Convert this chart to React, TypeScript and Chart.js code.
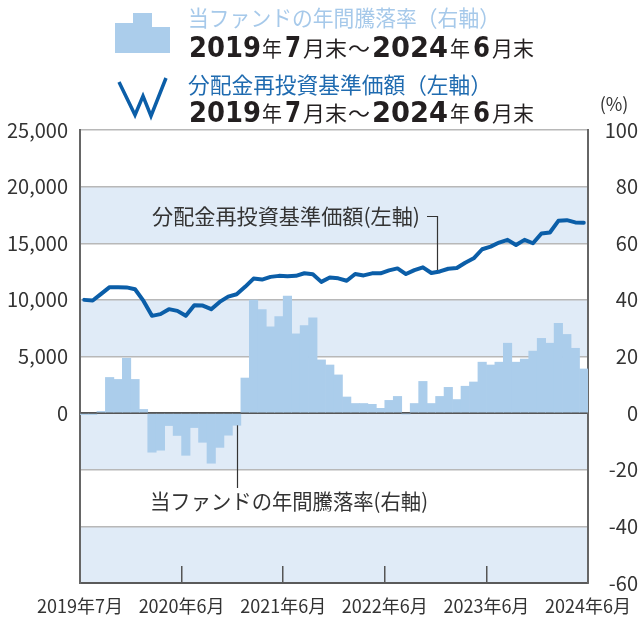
import React, { useEffect, useRef } from 'react';
import { Chart, registerables } from 'chart.js';
Chart.register(...registerables);

// ---- data ----
const months = [
  '2019/07','2019/08','2019/09','2019/10','2019/11','2019/12','2020/01','2020/02','2020/03','2020/04','2020/05','2020/06',
  '2020/07','2020/08','2020/09','2020/10','2020/11','2020/12','2021/01','2021/02','2021/03','2021/04','2021/05','2021/06',
  '2021/07','2021/08','2021/09','2021/10','2021/11','2021/12','2022/01','2022/02','2022/03','2022/04','2022/05','2022/06',
  '2022/07','2022/08','2022/09','2022/10','2022/11','2022/12','2023/01','2023/02','2023/03','2023/04','2023/05','2023/06',
  '2023/07','2023/08','2023/09','2023/10','2023/11','2023/12','2024/01','2024/02','2024/03','2024/04','2024/05','2024/06',
];
const annualReturnPct = [
  -0.5, -0.5, 0.6, 12.6, 11.9, 19.4, 11.9, 1.3, -13.8, -13.1, -4.4, -7.9,
  -14.9, -5.1, -10.3, -17.7, -12.1, -7.8, -4.3, 12.4, 39.9, 36.6, 30.5, 34.1,
  41.3, 28.0, 30.9, 33.7, 18.8, 17.0, 13.5, 5.7, 3.4, 3.4, 3.1, 1.7,
  4.5, 5.9, -0.3, 3.4, 11.2, 3.4, 5.9, 9.1, 4.8, 9.5, 11.0, 18.0,
  17.0, 18.0, 24.7, 18.0, 19.1, 21.9, 26.4, 24.7, 31.7, 27.8, 22.9, 15.6,
];
const navValues = [
  10000, 9940, 10530, 11120, 11120, 11100, 10940, 9910, 8590, 8740, 9180, 9030,
  8590, 9530, 9500, 9180, 9820, 10290, 10500, 11150, 11880, 11790, 12030, 12120,
  12090, 12120, 12350, 12260, 11590, 11970, 11900, 11690, 12280, 12160, 12340, 12340,
  12600, 12780, 12280, 12630, 12870, 12370, 12510, 12750, 12810, 13280, 13670, 14470,
  14700, 15060, 15300, 14850, 15300, 15000, 15860, 15950, 16980, 17040, 16840, 16810,
];
const xTickPositions = [0, 12, 24, 36, 48, 60];
const xTickLabels = ['2019年7月', '2020年6月', '2021年6月', '2022年6月', '2023年6月', '2024年6月'];
const bandRanges = [[60, 80], [20, 40], [-20, 0], [-60, -40]];
const navLeaderIndex = 41.66;
const returnLeaderIndex = 18;

const legendReturnText = '当ファンドの年間騰落率（右軸）';
const legendNavText = '分配金再投資基準価額（左軸）';
// [text, kind, left x, width]
const periodSegments: [string, string, number, number][] = [
  ['2019', 'num', 189, 72], ['年', 'jp', 262, 20], ['7', 'num', 285, 16], ['月末', 'jp', 303, 44], ['～', 'jp', 348, 22],
  ['2024', 'num', 372, 76], ['年', 'jp', 450, 20], ['6', 'num', 473, 17], ['月末', 'jp', 492, 42],
];
const annoNavText = '分配金再投資基準価額(左軸)';
const annoReturnText = '当ファンドの年間騰落率(右軸)';

const BAR_COLOR = '#abcdeb';
const LINE_COLOR = '#0b5ea8';
const BAND_COLOR = '#e0ebf7';
const TEXT_COLOR = '#333333';
const JP = '"Noto Sans CJK JP", sans-serif';
const NUM_FONT = '"Noto Sans CJK JP", sans-serif';

function fitText(ctx: CanvasRenderingContext2D, s: string, x: number, y: number, w: number) {
  const m = ctx.measureText(s).width;
  ctx.save();
  ctx.translate(x, y);
  ctx.scale(w / m, 1);
  ctx.fillText(s, 0, 0);
  ctx.restore();
}

const bandsPlugin = {
  id: 'bands',
  beforeDraw(chart: any) {
    const { ctx, chartArea, scales } = chart;
    const y = scales.y;
    ctx.save();
    ctx.fillStyle = BAND_COLOR;
    for (const [lo, hi] of bandRanges) {
      const t = y.getPixelForValue(hi);
      const b = y.getPixelForValue(lo);
      ctx.fillRect(chartArea.left, t, chartArea.right - chartArea.left, b - t);
    }
    ctx.restore();
  },
};

const annotationPlugin = {
  id: 'annos',
  afterDraw(chart: any) {
    const { ctx, scales } = chart;
    const x = scales.x, y = scales.y, yL = scales.yL;
    ctx.save();
    // legend icons
    ctx.fillStyle = BAR_COLOR;
    ctx.fillRect(115, 23, 18, 30);
    ctx.fillRect(133, 13, 19, 40);
    ctx.fillRect(152, 27, 18, 26);
    ctx.strokeStyle = LINE_COLOR;
    ctx.lineWidth = 3.5;
    ctx.lineJoin = 'miter';
    ctx.beginPath();
    ctx.moveTo(119, 82);
    ctx.lineTo(135, 115);
    ctx.lineTo(143, 96);
    ctx.lineTo(151, 116);
    ctx.lineTo(166, 78);
    ctx.stroke();

    // legend texts
    ctx.textBaseline = 'middle';
    ctx.textAlign = 'left';
    ctx.font = `22px ${JP}`;
    ctx.fillStyle = '#a6c9ea';
    fitText(ctx, legendReturnText, 188, 18, 312);
    ctx.fillStyle = '#1f6bb0';
    fitText(ctx, legendNavText, 188, 85, 304);

    ctx.textBaseline = 'alphabetic';
    ctx.fillStyle = '#231f20';
    for (const base of [57, 122]) {
      for (const [s, kind, px, w] of periodSegments) {
        ctx.font = kind === 'num' ? 'bold 29px "DejaVu Sans", sans-serif' : `21px ${JP}`;
        fitText(ctx, s, px, kind === 'num' ? base : base - 1, w);
      }
    }

    // (%)
    ctx.font = `18px ${NUM_FONT}`;
    ctx.fillStyle = TEXT_COLOR;
    ctx.textAlign = 'center';
    ctx.textBaseline = 'middle';
    ctx.fillText('(%)', 614, 104);

    // annotation NAV
    ctx.textAlign = 'left';
    ctx.font = `21px ${JP}`;
    fitText(ctx, annoNavText, 152, 216, 268);
    const i0 = Math.floor(navLeaderIndex);
    const f = navLeaderIndex - i0;
    const v = navValues[i0] + (navValues[i0 + 1] - navValues[i0]) * f;
    const lx = Math.round(x.getPixelForValue(navLeaderIndex + 0.5)) + 0.5;
    const ly = yL.getPixelForValue(v) - 2;
    ctx.strokeStyle = TEXT_COLOR;
    ctx.lineWidth = 1.2;
    ctx.beginPath();
    ctx.moveTo(427, 216.5);
    ctx.lineTo(lx, 216.5);
    ctx.lineTo(lx, ly);
    ctx.stroke();

    // annotation return
    fitText(ctx, annoReturnText, 150, 501, 278);
    const bx = Math.round(x.getPixelForValue(returnLeaderIndex + 0.5)) + 0.5;
    const by = y.getPixelForValue(annualReturnPct[returnLeaderIndex]);
    ctx.beginPath();
    ctx.moveTo(bx, by);
    ctx.lineTo(bx, 488);
    ctx.stroke();
    ctx.restore();
  },
};

export default function App() {
  const ref = useRef<HTMLCanvasElement>(null);
  useEffect(() => {
    if (!ref.current) return;
    const chart = new Chart(ref.current, {
      type: 'bar',
      data: {
        labels: months,
        datasets: [
          {
            type: 'line',
            label: '分配金再投資基準価額',
            data: navValues.map((v, i) => ({ x: i + 0.5, y: v })),
            borderColor: LINE_COLOR,
            borderWidth: 4,
            pointRadius: 0,
            tension: 0,
            borderJoinStyle: 'round',
            borderCapStyle: 'round',
            yAxisID: 'yL',
            xAxisID: 'x',
            order: 1,
          } as any,
          {
            type: 'bar',
            label: '当ファンドの年間騰落率',
            data: annualReturnPct.map((v, i) => ({ x: i + 0.5, y: v })),
            backgroundColor: BAR_COLOR,
            borderWidth: 0,
            barPercentage: 1,
            categoryPercentage: 1,
            yAxisID: 'y',
            xAxisID: 'x',
            order: 2,
          } as any,
        ],
      },
      options: {
        animation: false,
        responsive: false,
        layout: { padding: { top: 130, left: 0, right: 0, bottom: 0 } },
        plugins: { legend: { display: false }, tooltip: { enabled: false } },
        scales: {
          x: {
            type: 'linear',
            min: 0,
            max: 60,
            offset: false,
            afterBuildTicks: (s: any) => { s.ticks = xTickPositions.map((p) => ({ value: p })); },
            afterFit: (s: any) => { s.height = 35; s.paddingLeft = 0; s.paddingRight = 0; },
            ticks: {
              autoSkip: false,
              maxRotation: 0,
              padding: 29,
              color: TEXT_COLOR,
              font: { family: NUM_FONT, size: 18 },
              callback: (_v: any, i: number) => xTickLabels[i],
            },
            grid: { drawOnChartArea: false, drawTicks: true, tickLength: -17, color: '#555', lineWidth: 1.5, offset: false },
            border: { display: true, color: '#5a5a5a', width: 2 },
          } as any,
          yL: {
            type: 'linear',
            position: 'left',
            min: -15000,
            max: 25000,
            afterFit: (s: any) => { s.width = 80; },
            ticks: {
              stepSize: 5000,
              padding: 12,
              color: TEXT_COLOR,
              font: { family: NUM_FONT, size: 20 },
              callback: (v: any) => (v < 0 ? '' : Number(v).toLocaleString('en-US')),
            },
            grid: { display: false, drawTicks: false },
            border: { display: true, color: '#666', width: 2 },
          } as any,
          y: {
            type: 'linear',
            position: 'right',
            min: -60,
            max: 100,
            afterFit: (s: any) => { s.width = 50; },
            ticks: {
              stepSize: 20,
              padding: 12,
              crossAlign: 'far',
              color: TEXT_COLOR,
              font: { family: NUM_FONT, size: 20 },
            },
            grid: {
              drawTicks: false,
              color: (c: any) => (c.tick && c.tick.value === 0 ? '#555' : '#b8b8b8'),
              lineWidth: (c: any) => (c.tick && c.tick.value === 0 ? 2 : 1.5),
            },
            border: { display: true, color: '#666', width: 2 },
          } as any,
        },
      },
      plugins: [bandsPlugin, annotationPlugin],
    });
    return () => chart.destroy();
  }, []);
  return (
    <div style={{ position: 'absolute', left: 0, top: 0, width: 638, height: 618, background: '#fff' }}>
      <canvas ref={ref} width={638} height={618} />
    </div>
  );
}
